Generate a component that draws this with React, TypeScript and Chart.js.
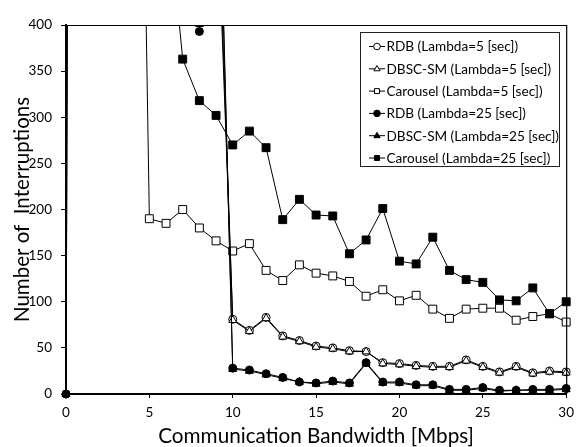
import React, { useEffect, useRef } from "react";
import { Chart, registerables } from "chart.js";

Chart.register(...registerables);

// Communication bandwidth [Mbps]
const bandwidth = [0, 1, 2, 3, 4, 5, 6, 7, 8, 9, 10, 11, 12, 13, 14, 15, 16, 17, 18, 19, 20, 21, 22, 23, 24, 25, 26, 27, 28, 29, 30];

// Number of interruptions (values above 400 run off the top of the plot)
const rdbL5 = [0, 5200, 4300, 3600, 2900, 2300, 1800, 1400, 1000, 570, 81, 69, 83, 63, 58, 52, 50, 47, 46, 34, 33, 31, 30, 30, 37, 30, 24, 30, 23, 25, 24];
const dbscL5 = [0, 4800, 4000, 3300, 2700, 2100, 1700, 1300, 950, 600, 80, 68, 82, 62, 57, 51, 49, 46, 46, 33, 32, 30, 29, 29, 36, 29, 23, 29, 22, 24, 23];
const carouselL5 = [null, 3900, 2800, 2000, 1300, 190, 185, 200, 180, 166, 155, 163, 134, 123, 140, 131, 128, 122, 106, 113, 101, 107, 92, 82, 92, 93, 93, 80, 84, 87, 78];
const rdbL25 = [0, 9800, 8000, 6500, 5000, 3800, 2600, 1600, 393, 700, 28, 26, 22, 18, 13, 12, 14, 12, 34, 13, 13, 10, 10, 5, 5, 7, 4, 4, 5, 5, 6];
const dbscL25 = [0, 9500, 7700, 6200, 4800, 3600, 2500, 1500, 401, 720, 27, 25, 21, 17, 13, 11, 13, 11, 33, 12, 12, 9, 9, 4, 4, 6, 3, 4, 4, 4, 5];
const carouselL25 = [null, 6000, 4800, 3500, 2400, 1500, 550, 363, 318, 302, 270, 285, 267, 189, 211, 194, 193, 152, 167, 201, 144, 141, 170, 134, 124, 121, 102, 101, 115, 87, 100];

const yTicks = [0, 50, 100, 150, 200, 250, 300, 350, 400];
const xTicks = [0, 5, 10, 15, 20, 25, 30];

const FONT = "Lato, 'Open Sans', sans-serif";

type Series = {
  label: string;
  values: (number | null)[];
  shape: "circle" | "triangle" | "rect";
  filled: boolean;
  order: number;
};

const series: Series[] = [
  { label: "RDB (Lambda=5 [sec])", values: rdbL5, shape: "circle", filled: false, order: 2 },
  { label: "DBSC-SM (Lambda=5 [sec])", values: dbscL5, shape: "triangle", filled: false, order: 1 },
  { label: "Carousel (Lambda=5 [sec])", values: carouselL5, shape: "rect", filled: false, order: 3 },
  { label: "RDB (Lambda=25 [sec])", values: rdbL25, shape: "circle", filled: true, order: 0 },
  { label: "DBSC-SM (Lambda=25 [sec])", values: dbscL25, shape: "triangle", filled: true, order: 0 },
  { label: "Carousel (Lambda=25 [sec])", values: carouselL25, shape: "rect", filled: true, order: 0 },
];

const radiusFor = (shape: string) => (shape === "rect" ? 5.6 : shape === "triangle" ? 4.6 : 4);

function drawMarker(ctx: CanvasRenderingContext2D, shape: string, x: number, y: number, r: number, filled: boolean) {
  ctx.beginPath();
  if (shape === "circle") {
    ctx.arc(x, y, r, 0, Math.PI * 2);
  } else if (shape === "triangle") {
    ctx.moveTo(x, y - r);
    ctx.lineTo(x + r * 0.95, y + r * 0.6);
    ctx.lineTo(x - r * 0.95, y + r * 0.6);
    ctx.closePath();
  } else {
    ctx.rect(x - r * 0.75, y - r * 0.75, r * 1.5, r * 1.5);
  }
  ctx.fillStyle = filled ? "#000" : "#fff";
  ctx.fill();
  ctx.strokeStyle = "#000";
  ctx.lineWidth = 1;
  ctx.stroke();
}

const framePlugin = {
  id: "frame",
  afterDatasetsDraw(chart: any) {
    const { ctx, chartArea } = chart;
    ctx.save();
    ctx.strokeStyle = "#000";
    ctx.lineWidth = 1.2;
    ctx.beginPath();
    ctx.moveTo(chartArea.left, chartArea.top + 0.5);
    ctx.lineTo(chartArea.right + 0.5, chartArea.top + 0.5);
    ctx.lineTo(chartArea.right + 0.5, chartArea.bottom);
    ctx.stroke();
    ctx.restore();
  },
};

const legendPlugin = {
  id: "boxLegend",
  afterDraw(chart: any) {
    const { ctx, chartArea } = chart;
    const boxW = 199;
    const boxH = 134;
    const left = Math.round(chartArea.right - 7 - boxW) + 0.5;
    const top = Math.round(chartArea.top + 7) + 0.5;
    ctx.save();
    ctx.fillStyle = "#fff";
    ctx.fillRect(left, top, boxW, boxH);
    ctx.strokeStyle = "#222";
    ctx.lineWidth = 1;
    ctx.strokeRect(left, top, boxW, boxH);
    ctx.font = `13.6px ${FONT}`;
    ctx.textBaseline = "middle";
    ctx.textAlign = "left";
    series.forEach((s, i) => {
      const y = top + 14 + i * 22.3;
      const x0 = left + 8.5;
      ctx.strokeStyle = "#000";
      ctx.lineWidth = 1;
      ctx.beginPath();
      ctx.moveTo(x0, y);
      ctx.lineTo(x0 + 16, y);
      ctx.stroke();
      drawMarker(ctx, s.shape, x0 + 8, y, 3.3, s.filled);
      ctx.fillStyle = "#000";
      ctx.fillText(s.label, x0 + 17.5, y + 0.5);
    });
    ctx.restore();
  },
};

export default function App() {
  const ref = useRef<HTMLCanvasElement>(null);

  useEffect(() => {
    if (!ref.current) return;
    const chart = new Chart(ref.current, {
      type: "line",
      data: {
        datasets: series.map((s) => ({
          label: s.label,
          data: bandwidth.map((x, i) => ({ x, y: s.values[i] })),
          borderColor: "#000",
          borderWidth: 1,
          backgroundColor: s.filled ? "#000" : "#fff",
          pointBackgroundColor: s.filled ? "#000" : "#fff",
          pointBorderColor: "#000",
          pointBorderWidth: 1,
          pointStyle: s.shape,
          pointRadius: radiusFor(s.shape),
          pointHoverRadius: radiusFor(s.shape),
          tension: 0,
          fill: false,
          spanGaps: false,
          order: s.order,
          clip: { left: 8, right: 8, bottom: 8, top: 0 },
        })),
      },
      options: {
        animation: false,
        responsive: false,
        devicePixelRatio: 1,
        events: [],
        layout: { padding: { top: 25, right: 8, left: 0, bottom: 0 } },
        plugins: {
          legend: { display: false },
          tooltip: { enabled: false },
        },
        scales: {
          x: {
            type: "linear",
            min: 0,
            max: 30,
            afterBuildTicks: (scale: any) => {
              scale.ticks = xTicks.map((v) => ({ value: v }));
            },
            afterFit: (scale: any) => {
              scale.height = 53;
            },
            ticks: {
              color: "#000",
              font: { family: FONT, size: 13.5 },
              padding: 7,
              maxRotation: 0,
            },
            grid: {
              display: true,
              drawOnChartArea: false,
              drawTicks: true,
              tickLength: 4,
              color: "#000",
              lineWidth: 1,
            },
            border: { display: true, color: "#000", width: 2 },
            title: {
              display: true,
              text: "Communication Bandwidth [Mbps]",
              color: "#000",
              font: { family: FONT, size: 20.7, lineHeight: 1.0 },
              padding: { top: 0, bottom: 0 },
            },
          },
          y: {
            type: "linear",
            min: 0,
            max: 400,
            afterBuildTicks: (scale: any) => {
              scale.ticks = yTicks.map((v) => ({ value: v }));
            },
            afterFit: (scale: any) => {
              scale.width = 66;
            },
            ticks: {
              color: "#000",
              font: { family: FONT, size: 13.5 },
              padding: 9,
            },
            grid: {
              display: true,
              drawOnChartArea: false,
              drawTicks: true,
              tickLength: 5,
              color: "#000",
              lineWidth: 1,
            },
            border: { display: true, color: "#000", width: 2 },
            title: {
              display: true,
              text: "Number of  Interruptions",
              color: "#000",
              font: { family: FONT, size: 20.5, lineHeight: 1.0 },
              padding: { top: 12, bottom: 0 },
            },
          },
        },
      },
      plugins: [framePlugin, legendPlugin],
    });
    return () => chart.destroy();
  }, []);

  return (
    <div style={{ position: "absolute", left: 0, top: 0, width: 581, height: 447, background: "#fff" }}>
      <canvas ref={ref} width={581} height={447} style={{ display: "block", width: 581, height: 447 }} />
    </div>
  );
}
